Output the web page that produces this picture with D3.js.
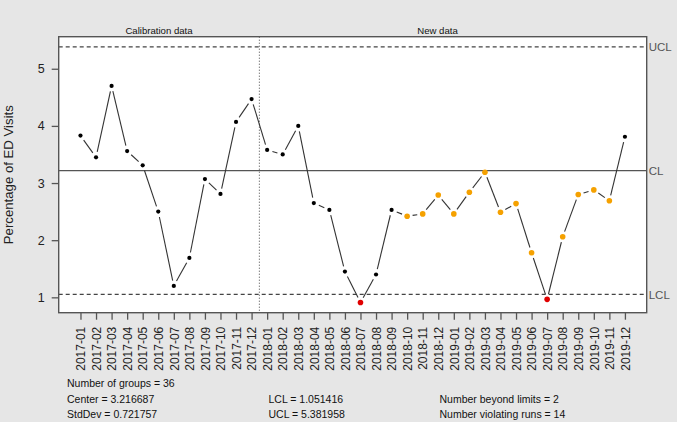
<!DOCTYPE html>
<html><head><meta charset="utf-8">
<script src="https://cdn.jsdelivr.net/npm/d3@7"></script>
<style>
body{margin:0;background:#e6e6e6}
svg{display:block;font-family:"Liberation Sans",Arial,sans-serif}
</style>
</head><body>
<svg id="chart" width="677" height="422"></svg>
<script>
const months = ["2017-01","2017-02","2017-03","2017-04","2017-05","2017-06","2017-07","2017-08","2017-09","2017-10","2017-11","2017-12",
"2018-01","2018-02","2018-03","2018-04","2018-05","2018-06","2018-07","2018-08","2018-09","2018-10","2018-11","2018-12",
"2019-01","2019-02","2019-03","2019-04","2019-05","2019-06","2019-07","2019-08","2019-09","2019-10","2019-11","2019-12"];
const values = [3.83,3.45,4.70,3.56,3.31,2.50,1.20,1.69,3.07,2.81,4.07,4.47,
3.58,3.50,4.00,2.65,2.53,1.45,0.91,1.40,2.53,2.42,2.46,2.79,
2.46,2.84,3.19,2.49,2.64,1.78,0.965,2.06,2.80,2.88,2.69,3.81];
// n = normal, v = violating run, b = beyond limits
const status = ["n","n","n","n","n","n","n","n","n","n","n","n",
"n","n","n","n","n","n","b","n","n","v","v","v",
"v","v","v","v","v","v","b","v","v","v","v","n"];
const calibrationSize = 12;
const center = 3.216687, lcl = 1.051416, ucl = 5.381958, stdDev = 0.721757;
const nBeyond = 2, nViolating = 14;
const yTicks = [1,2,3,4,5];
const limitLabels = [["UCL", ucl], ["CL", center], ["LCL", lcl]];
const statsText = [
  ["Number of groups = " + months.length, 0, 0],
  ["Center = " + center, 0, 1],
  ["StdDev = " + stdDev, 0, 2],
  ["LCL = " + lcl, 1, 1],
  ["UCL = " + ucl, 1, 2],
  ["Number beyond limits = " + nBeyond, 2, 1],
  ["Number violating runs = " + nViolating, 2, 2]
];
const colors = {n:"#000000", v:"#f5a100", b:"#e00000"};

const svg = d3.select("#chart");
const L = 58.7, R = 646.7, T = 36.7, B = 312.7;
const n = values.length;
const xext = (n - 1) * 0.04;
const x = d3.scaleLinear().domain([1 - xext, n + xext]).range([L, R]);
const ymin = d3.min(values.concat([lcl, ucl])), ymax = d3.max(values.concat([lcl, ucl]));
const yext = (ymax - ymin) * 0.04;
const y = d3.scaleLinear().domain([ymin - yext, ymax + yext]).range([B, T]);

// plot area
svg.append("rect").attr("x", L).attr("y", T).attr("width", R - L).attr("height", B - T).attr("fill", "#fff");

// limit lines
svg.append("line").attr("x1", L).attr("x2", R).attr("y1", y(center)).attr("y2", y(center))
  .attr("stroke", "#555").attr("stroke-width", 1.3);
[ucl, lcl].forEach(v => {
  svg.append("line").attr("x1", L).attr("x2", R).attr("y1", y(v)).attr("y2", y(v))
    .attr("stroke", "#444").attr("stroke-width", 1.1).attr("stroke-dasharray", "4,3");
});
// calibration divider
const xd = x(calibrationSize + 0.5);
svg.append("line").attr("x1", xd).attr("x2", xd).attr("y1", T).attr("y2", B)
  .attr("stroke", "#444").attr("stroke-width", 1).attr("stroke-dasharray", "1,2");

// type="b" line segments with gaps
const gap = 5.5;
const segs = [];
for (let i = 0; i < n - 1; i++) {
  const x1 = x(i + 1), y1 = y(values[i]), x2 = x(i + 2), y2 = y(values[i + 1]);
  const d = Math.hypot(x2 - x1, y2 - y1);
  if (d > 2 * gap) {
    const ux = (x2 - x1) / d, uy = (y2 - y1) / d;
    segs.push([x1 + ux * gap, y1 + uy * gap, x2 - ux * gap, y2 - uy * gap]);
  }
}
svg.append("g").selectAll("line").data(segs).join("line")
  .attr("x1", d => d[0]).attr("y1", d => d[1]).attr("x2", d => d[2]).attr("y2", d => d[3])
  .attr("stroke", "#333").attr("stroke-width", 1.1);

// points
svg.append("g").selectAll("circle").data(values).join("circle")
  .attr("cx", (d, i) => x(i + 1)).attr("cy", d => y(d))
  .attr("r", (d, i) => status[i] === "n" ? 2.1 : 2.8)
  .attr("fill", (d, i) => colors[status[i]]);

// box
svg.append("rect").attr("x", L).attr("y", T).attr("width", R - L).attr("height", B - T)
  .attr("fill", "none").attr("stroke", "#555").attr("stroke-width", 1.4);

// y axis
const yAxis = svg.append("g").attr("transform", `translate(${L},0)`)
  .call(d3.axisLeft(y).tickValues(yTicks).tickSize(7).tickPadding(7).tickFormat(d3.format("d")));
yAxis.select(".domain").remove();
yAxis.selectAll(".tick line").attr("stroke", "#555").attr("stroke-width", 1.3);
yAxis.selectAll(".tick text").attr("font-size", 12.5).attr("fill", "#222")
  .attr("font-family", '"Liberation Sans",Arial,sans-serif');

// x axis
const xAxis = svg.append("g").attr("transform", `translate(0,${B})`)
  .call(d3.axisBottom(x).tickValues(d3.range(1, n + 1)).tickSize(7).tickFormat(d => months[d - 1]));
xAxis.select(".domain").remove();
xAxis.selectAll(".tick line").attr("stroke", "#555").attr("stroke-width", 1.3);
xAxis.selectAll(".tick text").attr("font-size", 12).attr("fill", "#222")
  .attr("font-family", '"Liberation Sans",Arial,sans-serif')
  .attr("transform", "rotate(-90)").attr("text-anchor", "end")
  .attr("x", -14).attr("y", 0).attr("dy", "0.35em");

// y axis label
svg.append("text").attr("transform", `translate(13,${(T + B) / 2}) rotate(-90)`)
  .attr("text-anchor", "middle").attr("font-size", 13.2).attr("fill", "#222")
  .text("Percentage of ED Visits");

// section labels
svg.append("text").attr("x", x(6.05)).attr("y", 34).attr("text-anchor", "middle")
  .attr("font-size", 9.6).attr("fill", "#111").text("Calibration data");
svg.append("text").attr("x", x(23.95)).attr("y", 34).attr("text-anchor", "middle")
  .attr("font-size", 9.6).attr("fill", "#111").text("New data");

// limit labels
svg.append("g").selectAll("text").data(limitLabels).join("text")
  .attr("x", R + 2).attr("y", d => y(d[1])).attr("dy", "0.36em")
  .attr("font-size", 11.5).attr("fill", "#555").text(d => d[0]);

// stats
const colX = [67, 268.5, 439.5];
svg.append("g").selectAll("text").data(statsText).join("text")
  .attr("x", d => colX[d[1]]).attr("y", d => 387 + d[2] * 15.5)
  .attr("font-size", 10.5).attr("fill", "#111").text(d => d[0]);
</script>
</body></html>
